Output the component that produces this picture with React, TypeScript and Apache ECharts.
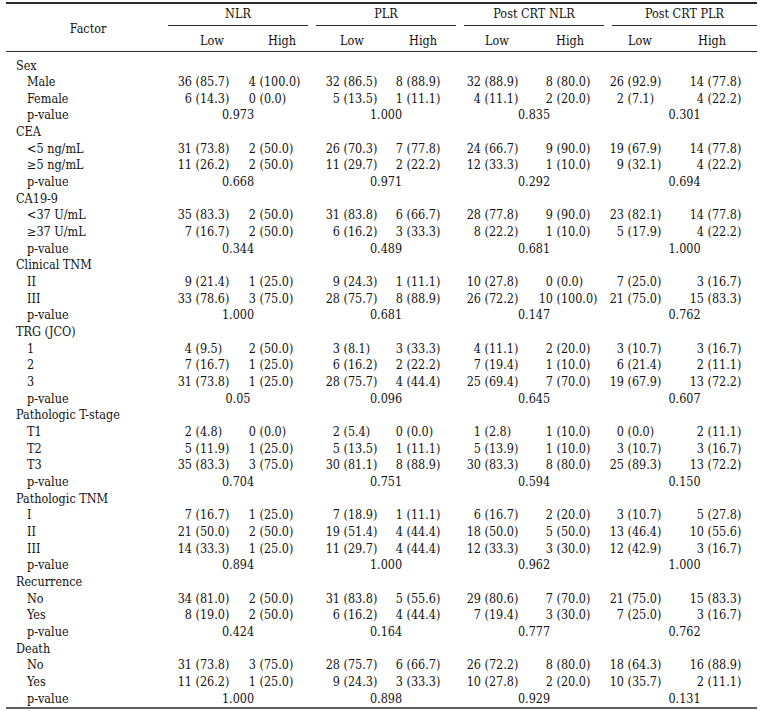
import React, { useEffect, useRef } from "react";
import * as echarts from "echarts";

// ---------- DATA ----------
const groupNames = [
  "Sex",
  "CEA",
  "CA19-9",
  "Clinical TNM",
  "TRG (JCO)",
  "Pathologic T-stage",
  "Pathologic TNM",
  "Recurrence",
  "Death",
];
const levelNames = [
  ["Male", "Female"],
  ["<5 ng/mL", "≥5 ng/mL"],
  ["<37 U/mL", "≥37 U/mL"],
  ["II", "III"],
  ["1", "2", "3"],
  ["T1", "T2", "T3"],
  ["I", "II", "III"],
  ["No", "Yes"],
  ["No", "Yes"],
];
const markerNames = ["NLR", "PLR", "Post CRT NLR", "Post CRT PLR"];
const subHeaders = ["Low", "High"];

// counts and percents, in level-row order (21 level rows)
const nlrLowN = [36, 6, 31, 11, 35, 7, 9, 33, 4, 7, 31, 2, 5, 35, 7, 21, 14, 34, 8, 31, 11];
const nlrLowPct = [85.7, 14.3, 73.8, 26.2, 83.3, 16.7, 21.4, 78.6, 9.5, 16.7, 73.8, 4.8, 11.9, 83.3, 16.7, 50.0, 33.3, 81.0, 19.0, 73.8, 26.2];
const nlrHighN = [4, 0, 2, 2, 2, 2, 1, 3, 2, 1, 1, 0, 1, 3, 1, 2, 1, 2, 2, 3, 1];
const nlrHighPct = [100.0, 0.0, 50.0, 50.0, 50.0, 50.0, 25.0, 75.0, 50.0, 25.0, 25.0, 0.0, 25.0, 75.0, 25.0, 50.0, 25.0, 50.0, 50.0, 75.0, 25.0];
const plrLowN = [32, 5, 26, 11, 31, 6, 9, 28, 3, 6, 28, 2, 5, 30, 7, 19, 11, 31, 6, 28, 9];
const plrLowPct = [86.5, 13.5, 70.3, 29.7, 83.8, 16.2, 24.3, 75.7, 8.1, 16.2, 75.7, 5.4, 13.5, 81.1, 18.9, 51.4, 29.7, 83.8, 16.2, 75.7, 24.3];
const plrHighN = [8, 1, 7, 2, 6, 3, 1, 8, 3, 2, 4, 0, 1, 8, 1, 4, 4, 5, 4, 6, 3];
const plrHighPct = [88.9, 11.1, 77.8, 22.2, 66.7, 33.3, 11.1, 88.9, 33.3, 22.2, 44.4, 0.0, 11.1, 88.9, 11.1, 44.4, 44.4, 55.6, 44.4, 66.7, 33.3];
const postNlrLowN = [32, 4, 24, 12, 28, 8, 10, 26, 4, 7, 25, 1, 5, 30, 6, 18, 12, 29, 7, 26, 10];
const postNlrLowPct = [88.9, 11.1, 66.7, 33.3, 77.8, 22.2, 27.8, 72.2, 11.1, 19.4, 69.4, 2.8, 13.9, 83.3, 16.7, 50.0, 33.3, 80.6, 19.4, 72.2, 27.8];
const postNlrHighN = [8, 2, 9, 1, 9, 1, 0, 10, 2, 1, 7, 1, 1, 8, 2, 5, 3, 7, 3, 8, 2];
const postNlrHighPct = [80.0, 20.0, 90.0, 10.0, 90.0, 10.0, 0.0, 100.0, 20.0, 10.0, 70.0, 10.0, 10.0, 80.0, 20.0, 50.0, 30.0, 70.0, 30.0, 80.0, 20.0];
const postPlrLowN = [26, 2, 19, 9, 23, 5, 7, 21, 3, 6, 19, 0, 3, 25, 3, 13, 12, 21, 7, 18, 10];
const postPlrLowPct = [92.9, 7.1, 67.9, 32.1, 82.1, 17.9, 25.0, 75.0, 10.7, 21.4, 67.9, 0.0, 10.7, 89.3, 10.7, 46.4, 42.9, 75.0, 25.0, 64.3, 35.7];
const postPlrHighN = [14, 4, 14, 4, 14, 4, 3, 15, 3, 2, 13, 2, 3, 13, 5, 10, 3, 15, 3, 16, 2];
const postPlrHighPct = [77.8, 22.2, 77.8, 22.2, 77.8, 22.2, 16.7, 83.3, 16.7, 11.1, 72.2, 11.1, 16.7, 72.2, 27.8, 55.6, 16.7, 83.3, 16.7, 88.9, 11.1];

const nlrP = ["0.973", "0.668", "0.344", "1.000", "0.05", "0.704", "0.894", "0.424", "1.000"];
const plrP = ["1.000", "0.971", "0.489", "0.681", "0.096", "0.751", "1.000", "0.164", "0.898"];
const postNlrP = ["0.835", "0.292", "0.681", "0.147", "0.645", "0.594", "0.962", "0.777", "0.929"];
const postPlrP = ["0.301", "0.694", "1.000", "0.762", "0.607", "0.150", "1.000", "0.762", "0.131"];

// ---------- LAYOUT ----------
const W = 762;
const H = 711;
const FONT_FAMILY = "'DejaVu Serif Condensed', 'DejaVu Serif', serif";
const FONT_SIZE = 12.5;
const TEXT_COLOR = "#111111";
const ROW_FIRST_Y = 65;
const ROW_H = 16.66;
const GROUP_X = 16;
const LEVEL_X = 27;
// x of right edge of count (paren starts just after) for the 8 value columns
const splitX = [192, 256, 340, 403, 481, 553, 624, 704];
const subCenterX = [212, 282, 352, 423, 497, 570, 640, 712];
const groupLine = [
  [168, 308],
  [316, 456],
  [464, 604],
  [612, 757],
];
const RULE_LEFT = 6;
const RULE_RIGHT = 757;

export default function App() {
  const ref = useRef<HTMLDivElement>(null);

  useEffect(() => {
    if (!ref.current) return;
    const chart = echarts.init(ref.current, undefined, { renderer: "svg" });

    const colN = [nlrLowN, nlrHighN, plrLowN, plrHighN, postNlrLowN, postNlrHighN, postPlrLowN, postPlrHighN];
    const colPct = [nlrLowPct, nlrHighPct, plrLowPct, plrHighPct, postNlrLowPct, postNlrHighPct, postPlrLowPct, postPlrHighPct];
    const colP = [nlrP, plrP, postNlrP, postPlrP];

    type Cell = { x: number; row: number; text: string; align: string };
    const cells: Cell[] = [];
    let row = 0;
    let lvl = 0;
    groupNames.forEach((g, gi) => {
      cells.push({ x: GROUP_X, row, text: g, align: "left" });
      row++;
      levelNames[gi].forEach((ln) => {
        cells.push({ x: LEVEL_X, row, text: ln, align: "left" });
        for (let c = 0; c < 8; c++) {
          cells.push({ x: splitX[c], row, text: String(colN[c][lvl]), align: "right" });
          cells.push({ x: splitX[c] + 3.5, row, text: "(" + colPct[c][lvl].toFixed(1) + ")", align: "left" });
        }
        lvl++;
        row++;
      });
      cells.push({ x: LEVEL_X, row, text: "p-value", align: "left" });
      for (let m = 0; m < 4; m++) {
        const cx = (groupLine[m][0] + groupLine[m][1]) / 2;
        cells.push({ x: cx, row, text: colP[m][gi], align: "center" });
      }
      row++;
    });
    const nRows = row;

    const gridTop = ROW_FIRST_Y - 0.5 * ROW_H;
    const gridBottom = H - (ROW_FIRST_Y + (nRows - 0.5) * ROW_H);
    const font = `${FONT_SIZE}px ${FONT_FAMILY}`;

    const txt = (text: string, x: number, y: number, align = "center") => ({
      type: "text",
      x,
      y,
      silent: true,
      style: {
        text,
        font,
        fill: TEXT_COLOR,
        align,
        verticalAlign: "middle",
        textAlign: align,
        textVerticalAlign: "middle",
      },
    });
    const hline = (x1: number, x2: number, y: number, w: number) => ({
      type: "line",
      silent: true,
      shape: { x1, y1: y, x2, y2: y },
      style: { stroke: "#2a2a2a", lineWidth: w },
    });

    const graphics: any[] = [];
    graphics.push(hline(RULE_LEFT, RULE_RIGHT, 3, 2));
    graphics.push(txt("Factor", 88, 28));
    markerNames.forEach((m, i) => {
      const cx = (groupLine[i][0] + groupLine[i][1]) / 2;
      graphics.push(txt(m, cx, 13));
      graphics.push(hline(groupLine[i][0], groupLine[i][1], 25.5, 1));
      graphics.push(txt(subHeaders[0], subCenterX[i * 2], 40));
      graphics.push(txt(subHeaders[1], subCenterX[i * 2 + 1], 40));
    });
    graphics.push(hline(RULE_LEFT, RULE_RIGHT, 51.5, 1));
    graphics.push(hline(RULE_LEFT, RULE_RIGHT, 708, 1.5));

    chart.setOption({
      animation: false,
      backgroundColor: "#ffffff",
      grid: { left: 0, right: 0, top: gridTop, bottom: gridBottom, containLabel: false },
      xAxis: { type: "value", min: 0, max: W, show: false },
      yAxis: { type: "value", min: -0.5, max: nRows - 0.5, inverse: true, show: false },
      series: [
        {
          type: "custom",
          clip: false,
          silent: true,
          data: cells.map((c) => [c.x, c.row]),
          renderItem: (params: any, api: any) => {
            const c = cells[params.dataIndex];
            const p = api.coord([api.value(0), api.value(1)]);
            return {
              type: "text",
              x: p[0],
              y: p[1],
              style: {
                text: c.text,
                font,
                fill: TEXT_COLOR,
                align: c.align,
                verticalAlign: "middle",
                textAlign: c.align,
                textVerticalAlign: "middle",
              },
            };
          },
        },
      ],
      graphic: graphics,
    });

    return () => chart.dispose();
  }, []);

  return (
    <div
      ref={ref}
      style={{ position: "absolute", left: 0, top: 0, width: W, height: H, background: "#fff" }}
    />
  );
}
